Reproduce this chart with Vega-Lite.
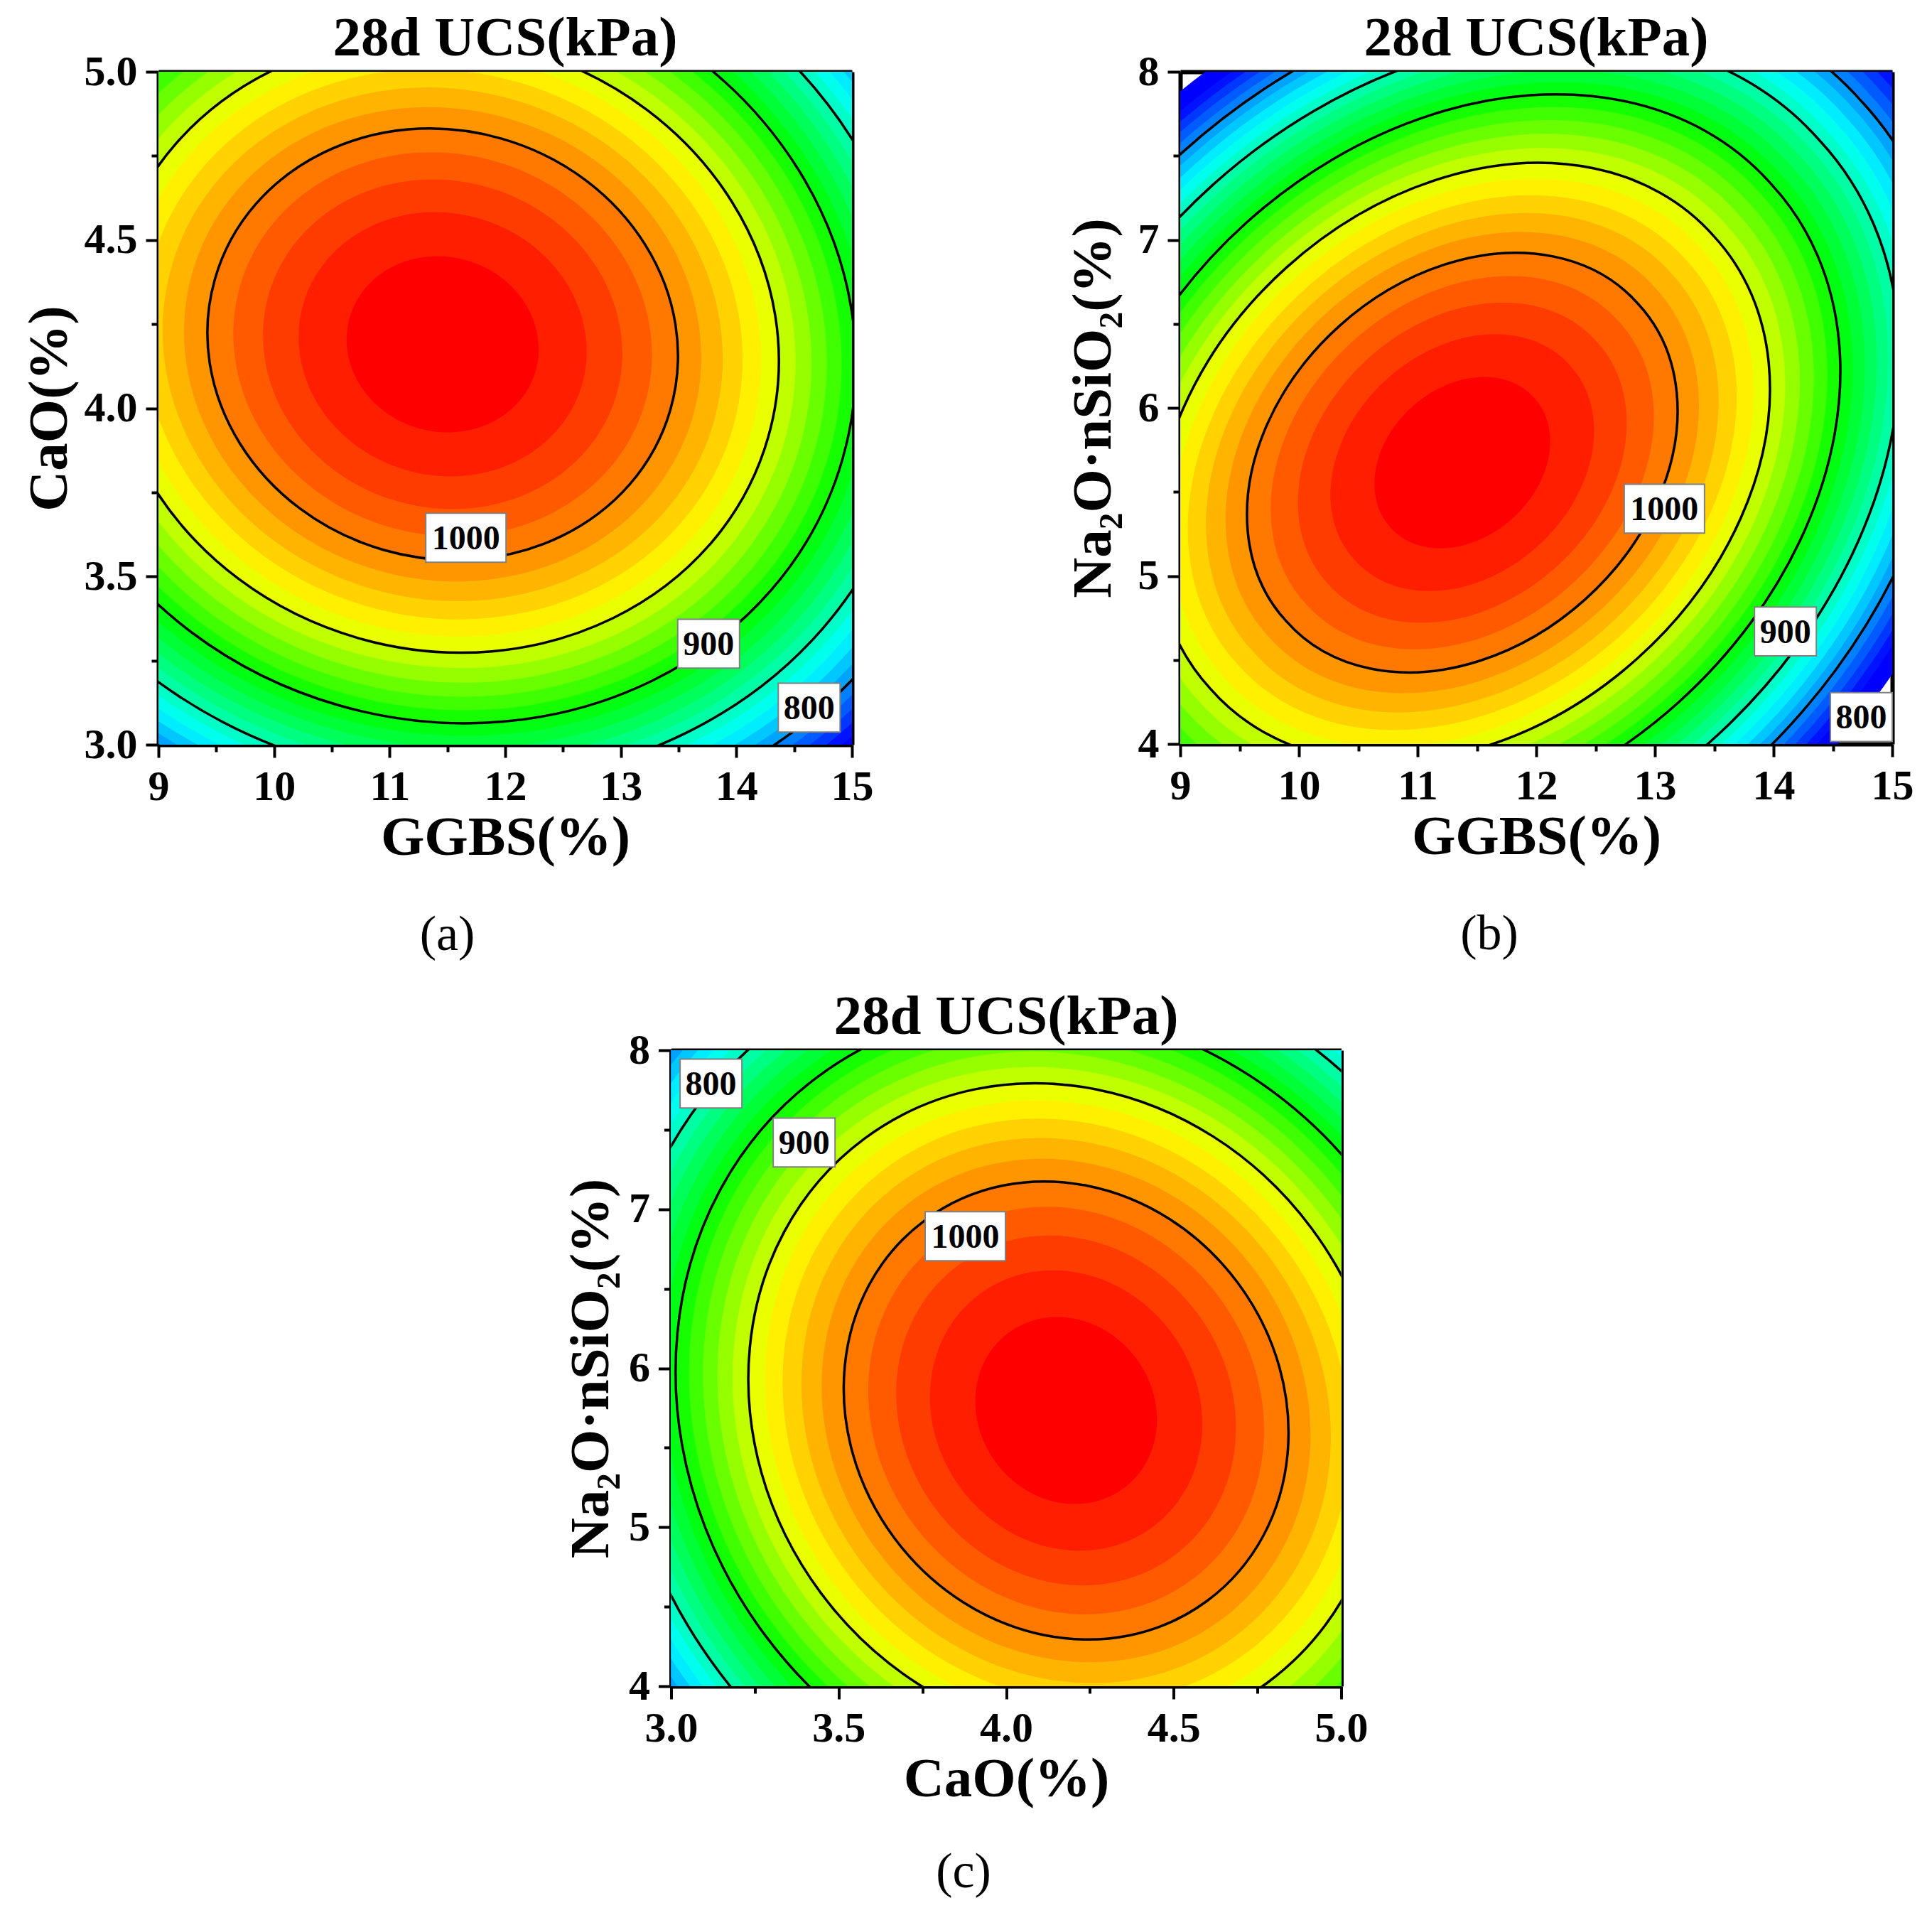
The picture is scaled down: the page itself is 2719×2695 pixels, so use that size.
{
  "$schema": "https://vega.github.io/schema/vega-lite/v6.json",
  "background": "white",
  "padding": {"left": 30, "top": 15, "right": 10, "bottom": 10},
  "datasets": {
    "pa": [
      {"x": 11.459, "y": 4.19, "level": 740}, {"x": 11.459, "y": 4.19, "level": 750}, {"x": 11.459, "y": 4.19, "level": 760}, {"x": 11.459, "y": 4.19, "level": 770},
      {"x": 11.459, "y": 4.19, "level": 780}, {"x": 11.459, "y": 4.19, "level": 790}, {"x": 11.459, "y": 4.19, "level": 800}, {"x": 11.459, "y": 4.19, "level": 810},
      {"x": 11.459, "y": 4.19, "level": 820}, {"x": 11.459, "y": 4.19, "level": 830}, {"x": 11.459, "y": 4.19, "level": 840}, {"x": 11.459, "y": 4.19, "level": 850},
      {"x": 11.459, "y": 4.19, "level": 860}, {"x": 11.459, "y": 4.19, "level": 870}, {"x": 11.459, "y": 4.19, "level": 880}, {"x": 11.459, "y": 4.19, "level": 890},
      {"x": 11.459, "y": 4.19, "level": 900}, {"x": 11.459, "y": 4.19, "level": 910}, {"x": 11.459, "y": 4.19, "level": 920}, {"x": 11.459, "y": 4.19, "level": 930},
      {"x": 11.459, "y": 4.19, "level": 940}, {"x": 11.459, "y": 4.19, "level": 950}, {"x": 11.459, "y": 4.19, "level": 960}, {"x": 11.459, "y": 4.19, "level": 970},
      {"x": 11.459, "y": 4.19, "level": 980}, {"x": 11.459, "y": 4.19, "level": 990}, {"x": 11.459, "y": 4.19, "level": 1000}, {"x": 11.459, "y": 4.19, "level": 1010},
      {"x": 11.459, "y": 4.19, "level": 1020}, {"x": 11.459, "y": 4.19, "level": 1030}, {"x": 11.459, "y": 4.19, "level": 1040}
    ],
    "pb": [
      {"x": 11.377, "y": 5.674, "level": 740}, {"x": 11.377, "y": 5.674, "level": 750}, {"x": 11.377, "y": 5.674, "level": 760}, {"x": 11.377, "y": 5.674, "level": 770},
      {"x": 11.377, "y": 5.674, "level": 780}, {"x": 11.377, "y": 5.674, "level": 790}, {"x": 11.377, "y": 5.674, "level": 800}, {"x": 11.377, "y": 5.674, "level": 810},
      {"x": 11.377, "y": 5.674, "level": 820}, {"x": 11.377, "y": 5.674, "level": 830}, {"x": 11.377, "y": 5.674, "level": 840}, {"x": 11.377, "y": 5.674, "level": 850},
      {"x": 11.377, "y": 5.674, "level": 860}, {"x": 11.377, "y": 5.674, "level": 870}, {"x": 11.377, "y": 5.674, "level": 880}, {"x": 11.377, "y": 5.674, "level": 890},
      {"x": 11.377, "y": 5.674, "level": 900}, {"x": 11.377, "y": 5.674, "level": 910}, {"x": 11.377, "y": 5.674, "level": 920}, {"x": 11.377, "y": 5.674, "level": 930},
      {"x": 11.377, "y": 5.674, "level": 940}, {"x": 11.377, "y": 5.674, "level": 950}, {"x": 11.377, "y": 5.674, "level": 960}, {"x": 11.377, "y": 5.674, "level": 970},
      {"x": 11.377, "y": 5.674, "level": 980}, {"x": 11.377, "y": 5.674, "level": 990}, {"x": 11.377, "y": 5.674, "level": 1000}, {"x": 11.377, "y": 5.674, "level": 1010},
      {"x": 11.377, "y": 5.674, "level": 1020}, {"x": 11.377, "y": 5.674, "level": 1030}, {"x": 11.377, "y": 5.674, "level": 1040}
    ],
    "pc": [
      {"x": 4.179, "y": 5.734, "level": 740}, {"x": 4.179, "y": 5.734, "level": 750}, {"x": 4.179, "y": 5.734, "level": 760}, {"x": 4.179, "y": 5.734, "level": 770},
      {"x": 4.179, "y": 5.734, "level": 780}, {"x": 4.179, "y": 5.734, "level": 790}, {"x": 4.179, "y": 5.734, "level": 800}, {"x": 4.179, "y": 5.734, "level": 810},
      {"x": 4.179, "y": 5.734, "level": 820}, {"x": 4.179, "y": 5.734, "level": 830}, {"x": 4.179, "y": 5.734, "level": 840}, {"x": 4.179, "y": 5.734, "level": 850},
      {"x": 4.179, "y": 5.734, "level": 860}, {"x": 4.179, "y": 5.734, "level": 870}, {"x": 4.179, "y": 5.734, "level": 880}, {"x": 4.179, "y": 5.734, "level": 890},
      {"x": 4.179, "y": 5.734, "level": 900}, {"x": 4.179, "y": 5.734, "level": 910}, {"x": 4.179, "y": 5.734, "level": 920}, {"x": 4.179, "y": 5.734, "level": 930},
      {"x": 4.179, "y": 5.734, "level": 940}, {"x": 4.179, "y": 5.734, "level": 950}, {"x": 4.179, "y": 5.734, "level": 960}, {"x": 4.179, "y": 5.734, "level": 970},
      {"x": 4.179, "y": 5.734, "level": 980}, {"x": 4.179, "y": 5.734, "level": 990}, {"x": 4.179, "y": 5.734, "level": 1000}, {"x": 4.179, "y": 5.734, "level": 1010},
      {"x": 4.179, "y": 5.734, "level": 1020}, {"x": 4.179, "y": 5.734, "level": 1030}, {"x": 4.179, "y": 5.734, "level": 1040}
    ],
    "la": [
      {"label": "1000", "x": 11.66, "y": 3.615},
      {"label": "900", "x": 13.76, "y": 3.30},
      {"label": "800", "x": 14.63, "y": 3.11}
    ],
    "lb": [
      {"label": "1000", "x": 13.08, "y": 5.40},
      {"label": "900", "x": 14.10, "y": 4.67},
      {"label": "800", "x": 14.74, "y": 4.16}
    ],
    "lc": [
      {"label": "800", "x": 3.119, "y": 7.79},
      {"label": "900", "x": 3.397, "y": 7.42},
      {"label": "1000", "x": 3.878, "y": 6.83}
    ]
  },
  "vconcat": [
    {
      "hconcat": [
        {
          "title": {"text": "(a)", "orient": "bottom", "anchor": "middle", "fontSize": 70, "fontWeight": "normal", "offset": 64},
          "vconcat": [
            {
              "width": 976, "height": 947,
              "title": {"text": "28d UCS(kPa)", "anchor": "middle", "frame": "group", "fontSize": 79, "fontWeight": "bold", "offset": -24},
              "resolve": {"axis": {"x": "independent", "y": "independent"}},
              "layer": [
                {
                  "data": {"name": "pa"},
                  "mark": {"type": "point", "shape": "M 0.9613 0.2756 A 1 0.903 16 1 1 -0.9613 -0.2756 A 1 0.903 16 1 1 0.9613 0.2756 Z", "filled": true, "opacity": 1, "strokeWidth": 0, "clip": true},
                  "encoding": {
                    "x": {"field": "x", "type": "quantitative", "scale": {"domain": [9, 15], "nice": false, "zero": false},
                      "axis": {"orient": "bottom", "values": [9, 10, 11, 12, 13, 14, 15], "format": "d", "title": "GGBS(%)", "tickSize": 18, "labelPadding": 12, "titlePadding": 3}},
                    "y": {"field": "y", "type": "quantitative", "scale": {"domain": [3, 5], "nice": false, "zero": false},
                      "axis": {"orient": "left", "values": [3, 3.5, 4, 4.5, 5], "format": ".1f", "title": "CaO(%)", "tickSize": 18, "labelPadding": 12, "titlePadding": 8}},
                    "size": {"field": "level", "type": "quantitative", "scale": {"domain": [740, 1048], "range": [2853004, 0]}, "legend": null},
                    "color": {"field": "level", "type": "quantitative", "scale": {"domain": [755, 825, 895, 955, 1040], "range": ["#0000ff", "#00ffff", "#00ff00", "#ffff00", "#ff0000"], "interpolate": "rgb"}, "legend": null},
                    "order": {"field": "level", "type": "quantitative"}
                  }
                },
                {
                  "data": {"name": "pa"},
                  "transform": [{"filter": {"field": "level", "oneOf": [800, 850, 900, 950, 1000]}}],
                  "mark": {"type": "point", "shape": "M 0.9613 0.2756 A 1 0.903 16 1 1 -0.9613 -0.2756 A 1 0.903 16 1 1 0.9613 0.2756 Z", "filled": false, "color": "black", "strokeWidth": 3.5, "opacity": 1, "clip": true},
                  "encoding": {
                    "x": {"field": "x", "type": "quantitative", "axis": {"orient": "top", "ticks": false, "labels": false, "title": null, "domain": true}},
                    "y": {"field": "y", "type": "quantitative", "axis": {"orient": "right", "ticks": false, "labels": false, "title": null, "domain": true}},
                    "size": {"field": "level", "type": "quantitative", "legend": null}
                  }
                },
                {
                  "data": {"name": "la"},
                  "transform": [{"filter": {"field": "label", "equal": "1000"}}],
                  "mark": {"type": "point", "shape": "M -1 -0.61 L 1 -0.61 L 1 0.61 L -1 0.61 Z", "filled": true, "fill": "white", "stroke": "#808080", "strokeWidth": 2, "opacity": 1, "size": 12769},
                  "encoding": {
                    "x": {"field": "x", "type": "quantitative", "axis": {"orient": "bottom", "values": [9.5, 10.5, 11.5, 12.5, 13.5, 14.5], "labels": false, "domain": false, "tickSize": 10, "title": null}},
                    "y": {"field": "y", "type": "quantitative", "axis": {"orient": "left", "values": [3.25, 3.75, 4.25, 4.75], "labels": false, "domain": false, "tickSize": 10, "title": null}}
                  }
                },
                {
                  "data": {"name": "la"},
                  "transform": [{"filter": {"not": {"field": "label", "equal": "1000"}}}],
                  "mark": {"type": "point", "shape": "M -1 -0.79 L 1 -0.79 L 1 0.79 L -1 0.79 Z", "filled": true, "fill": "white", "stroke": "#808080", "strokeWidth": 2, "opacity": 1, "size": 7569},
                  "encoding": {
                    "x": {"field": "x", "type": "quantitative", "axis": null},
                    "y": {"field": "y", "type": "quantitative", "axis": null}
                  }
                },
                {
                  "data": {"name": "la"},
                  "mark": {"type": "text", "font": "Liberation Serif", "fontWeight": "bold", "fontSize": 48, "baseline": "middle", "align": "center", "color": "black", "dy": 2},
                  "encoding": {
                    "x": {"field": "x", "type": "quantitative", "axis": null},
                    "y": {"field": "y", "type": "quantitative", "axis": null},
                    "text": {"field": "label"}
                  }
                }
              ]
            }
          ]
        },
        {
          "title": {"text": "(b)", "orient": "bottom", "anchor": "middle", "fontSize": 70, "fontWeight": "normal", "offset": 64},
          "vconcat": [
            {
              "width": 1002, "height": 946,
              "title": {"text": "28d UCS(kPa)", "anchor": "middle", "frame": "group", "fontSize": 79, "fontWeight": "bold", "offset": -24},
              "resolve": {"axis": {"x": "independent", "y": "independent"}},
              "layer": [
                {
                  "data": {"name": "pb"},
                  "mark": {"type": "point", "shape": "M 0.7431 -0.6691 A 1 0.768 -42 1 1 -0.7431 0.6691 A 1 0.768 -42 1 1 0.7431 -0.6691 Z", "filled": true, "opacity": 1, "strokeWidth": 0, "clip": true},
                  "encoding": {
                    "x": {"field": "x", "type": "quantitative", "scale": {"domain": [9, 15], "nice": false, "zero": false},
                      "axis": {"orient": "bottom", "values": [9, 10, 11, 12, 13, 14, 15], "format": "d", "title": "GGBS(%)", "tickSize": 18, "labelPadding": 12, "titlePadding": 3}},
                    "y": {"field": "y", "type": "quantitative", "scale": {"domain": [4, 8], "nice": false, "zero": false},
                      "axis": {"orient": "left", "values": [4, 5, 6, 7, 8], "format": "d", "title": "Na₂O·nSiO₂(%)", "tickSize": 18, "labelPadding": 12, "titlePadding": 22}},
                    "size": {"field": "level", "type": "quantitative", "scale": {"domain": [740, 1048], "range": [3551856, 0]}, "legend": null},
                    "color": {"field": "level", "type": "quantitative", "scale": {"domain": [755, 825, 895, 955, 1040], "range": ["#0000ff", "#00ffff", "#00ff00", "#ffff00", "#ff0000"], "interpolate": "rgb"}, "legend": null},
                    "order": {"field": "level", "type": "quantitative"}
                  }
                },
                {
                  "data": {"name": "pb"},
                  "transform": [{"filter": {"field": "level", "oneOf": [800, 850, 900, 950, 1000]}}],
                  "mark": {"type": "point", "shape": "M 0.7431 -0.6691 A 1 0.768 -42 1 1 -0.7431 0.6691 A 1 0.768 -42 1 1 0.7431 -0.6691 Z", "filled": false, "color": "black", "strokeWidth": 3.5, "opacity": 1, "clip": true},
                  "encoding": {
                    "x": {"field": "x", "type": "quantitative", "axis": {"orient": "top", "ticks": false, "labels": false, "title": null, "domain": true}},
                    "y": {"field": "y", "type": "quantitative", "axis": {"orient": "right", "ticks": false, "labels": false, "title": null, "domain": true}},
                    "size": {"field": "level", "type": "quantitative", "legend": null}
                  }
                },
                {
                  "data": {"name": "lb"},
                  "transform": [{"filter": {"field": "label", "equal": "1000"}}],
                  "mark": {"type": "point", "shape": "M -1 -0.61 L 1 -0.61 L 1 0.61 L -1 0.61 Z", "filled": true, "fill": "white", "stroke": "#808080", "strokeWidth": 2, "opacity": 1, "size": 12769},
                  "encoding": {
                    "x": {"field": "x", "type": "quantitative", "axis": {"orient": "bottom", "values": [9.5, 10.5, 11.5, 12.5, 13.5, 14.5], "labels": false, "domain": false, "tickSize": 10, "title": null}},
                    "y": {"field": "y", "type": "quantitative", "axis": {"orient": "left", "values": [4.5, 5.5, 6.5, 7.5], "labels": false, "domain": false, "tickSize": 10, "title": null}}
                  }
                },
                {
                  "data": {"name": "lb"},
                  "transform": [{"filter": {"not": {"field": "label", "equal": "1000"}}}],
                  "mark": {"type": "point", "shape": "M -1 -0.79 L 1 -0.79 L 1 0.79 L -1 0.79 Z", "filled": true, "fill": "white", "stroke": "#808080", "strokeWidth": 2, "opacity": 1, "size": 7569},
                  "encoding": {
                    "x": {"field": "x", "type": "quantitative", "axis": null},
                    "y": {"field": "y", "type": "quantitative", "axis": null}
                  }
                },
                {
                  "data": {"name": "lb"},
                  "mark": {"type": "text", "font": "Liberation Serif", "fontWeight": "bold", "fontSize": 48, "baseline": "middle", "align": "center", "color": "black", "dy": 2},
                  "encoding": {
                    "x": {"field": "x", "type": "quantitative", "axis": null},
                    "y": {"field": "y", "type": "quantitative", "axis": null},
                    "text": {"field": "label"}
                  }
                }
              ]
            }
          ]
        }
      ],
      "spacing": 270
    },
    {
      "title": {"text": "(c)", "orient": "bottom", "anchor": "middle", "fontSize": 70, "fontWeight": "normal", "offset": 58, "dx": -26},
      "vconcat": [
        {
          "width": 943, "height": 895,
          "title": {"text": "28d UCS(kPa)", "anchor": "middle", "frame": "group", "fontSize": 79, "fontWeight": "bold", "offset": -24},
          "resolve": {"axis": {"x": "independent", "y": "independent"}},
          "layer": [
            {
              "data": {"name": "pc"},
              "mark": {"type": "point", "shape": "M 0.597 0.8023 A 1 0.903 53.35 1 1 -0.597 -0.8023 A 1 0.903 53.35 1 1 0.597 0.8023 Z", "filled": true, "opacity": 1, "strokeWidth": 0, "clip": true},
              "encoding": {
                "x": {"field": "x", "type": "quantitative", "scale": {"domain": [3, 5], "nice": false, "zero": false},
                  "axis": {"orient": "bottom", "values": [3, 3.5, 4, 4.5, 5], "format": ".1f", "title": "CaO(%)", "tickSize": 18, "labelPadding": 12, "titlePadding": 3}},
                "y": {"field": "y", "type": "quantitative", "scale": {"domain": [4, 8], "nice": false, "zero": false},
                  "axis": {"orient": "left", "values": [4, 5, 6, 7, 8], "format": "d", "title": "Na₂O·nSiO₂(%)", "tickSize": 18, "labelPadding": 12, "titlePadding": 12}},
                "size": {"field": "level", "type": "quantitative", "scale": {"domain": [740, 1048], "range": [2414720, 0]}, "legend": null},
                "color": {"field": "level", "type": "quantitative", "scale": {"domain": [755, 825, 895, 955, 1040], "range": ["#0000ff", "#00ffff", "#00ff00", "#ffff00", "#ff0000"], "interpolate": "rgb"}, "legend": null},
                "order": {"field": "level", "type": "quantitative"}
              }
            },
            {
              "data": {"name": "pc"},
              "transform": [{"filter": {"field": "level", "oneOf": [800, 850, 900, 950, 1000]}}],
              "mark": {"type": "point", "shape": "M 0.597 0.8023 A 1 0.903 53.35 1 1 -0.597 -0.8023 A 1 0.903 53.35 1 1 0.597 0.8023 Z", "filled": false, "color": "black", "strokeWidth": 3.5, "opacity": 1, "clip": true},
              "encoding": {
                "x": {"field": "x", "type": "quantitative", "axis": {"orient": "top", "ticks": false, "labels": false, "title": null, "domain": true}},
                "y": {"field": "y", "type": "quantitative", "axis": {"orient": "right", "ticks": false, "labels": false, "domain": true, "title": "I", "titleFontSize": 40, "titlePadding": 44, "titleColor": "white"}},
                "size": {"field": "level", "type": "quantitative", "legend": null}
              }
            },
            {
              "data": {"name": "lc"},
              "transform": [{"filter": {"field": "label", "equal": "1000"}}],
              "mark": {"type": "point", "shape": "M -1 -0.61 L 1 -0.61 L 1 0.61 L -1 0.61 Z", "filled": true, "fill": "white", "stroke": "#808080", "strokeWidth": 2, "opacity": 1, "size": 12769},
              "encoding": {
                "x": {"field": "x", "type": "quantitative", "axis": {"orient": "bottom", "values": [3.25, 3.75, 4.25, 4.75], "labels": false, "domain": false, "tickSize": 10, "title": null}},
                "y": {"field": "y", "type": "quantitative", "axis": {"orient": "left", "values": [4.5, 5.5, 6.5, 7.5], "labels": false, "domain": false, "tickSize": 10, "title": null}}
              }
            },
            {
              "data": {"name": "lc"},
              "transform": [{"filter": {"not": {"field": "label", "equal": "1000"}}}],
              "mark": {"type": "point", "shape": "M -1 -0.79 L 1 -0.79 L 1 0.79 L -1 0.79 Z", "filled": true, "fill": "white", "stroke": "#808080", "strokeWidth": 2, "opacity": 1, "size": 7569},
              "encoding": {
                "x": {"field": "x", "type": "quantitative", "axis": null},
                "y": {"field": "y", "type": "quantitative", "axis": null}
              }
            },
            {
              "data": {"name": "lc"},
              "mark": {"type": "text", "font": "Liberation Serif", "fontWeight": "bold", "fontSize": 48, "baseline": "middle", "align": "center", "color": "black", "dy": 2},
              "encoding": {
                "x": {"field": "x", "type": "quantitative", "axis": null},
                "y": {"field": "y", "type": "quantitative", "axis": null},
                "text": {"field": "label"}
              }
            }
          ]
        }
      ]
    }
  ],
  "spacing": 41,
  "center": true,
  "config": {
    "view": {"stroke": null},
    "axis": {
      "grid": false,
      "labelFont": "Liberation Serif", "labelFontWeight": "bold", "labelFontSize": 60, "labelColor": "black",
      "titleFont": "Liberation Serif", "titleFontWeight": "bold", "titleFontSize": 79, "titleColor": "black",
      "tickColor": "black", "tickWidth": 4, "domainColor": "black", "domainWidth": 6,
      "labelFlush": false, "labelOverlap": false, "zindex": 1
    },
    "title": {"font": "Liberation Serif", "color": "black"}
  }
}
